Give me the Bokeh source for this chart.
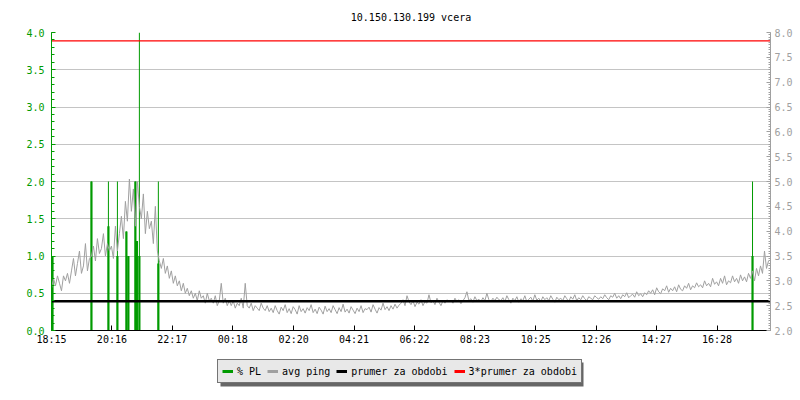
from bokeh.plotting import figure
from bokeh.layouts import column
from bokeh.models import (Range1d, LinearAxis, SingleIntervalTicker, FixedTicker,
                          PrintfTickFormatter, Legend, LegendItem, ColumnDataSource)
from bokeh.embed import file_html
from bokeh.resources import INLINE

title_text = "10.150.130.199 vcera"

# x axis: minutes since 18:15
tick_minutes = [0, 121, 242, 363, 485, 606, 727, 848, 970, 1091, 1212, 1333]
tick_labels = ["18:15", "20:16", "22:17", "00:18", "02:20", "04:21",
               "06:22", "08:23", "10:25", "12:26", "14:27", "16:28"]
period_minutes = 1440
sample_step = 4

# avg ping (ms, right axis)
avg_ping = [
    2.85, 3.05, 2.9, 3.1, 2.95, 2.8, 3.1, 3.0, 3.15, 2.95,
    3.2, 3.45, 3.1, 3.35, 3.6, 3.15, 3.3, 3.75, 3.2, 3.45,
    3.5, 3.7, 3.4, 3.85, 3.55, 3.65, 3.95, 3.5, 3.75, 3.6,
    3.7, 3.45, 4.1, 3.6, 3.95, 4.3, 3.85, 4.6, 4.2, 5.05,
    4.4, 4.85, 4.1, 5.0, 4.5, 4.25, 4.75, 3.95, 4.4, 4.05,
    4.2, 3.75, 4.5, 3.6, 3.4, 3.25, 3.45, 3.15, 3.3, 3.05,
    3.2, 2.95, 3.1, 2.9, 3.0, 2.8, 2.95, 2.75, 2.85, 2.7,
    2.8, 2.65, 2.75, 2.6, 2.8, 2.65, 2.7, 2.55, 2.75, 2.6,
    2.65, 2.55, 2.7, 2.5, 2.6, 2.95, 2.55, 2.65, 2.5, 2.6,
    2.5, 2.6, 2.45, 2.55, 2.5, 2.65, 2.45, 2.95, 2.5, 2.45,
    2.55, 2.4, 2.5, 2.45, 2.4, 2.55, 2.45, 2.4, 2.5, 2.38,
    2.45, 2.36, 2.5, 2.4, 2.33, 2.47, 2.4, 2.52, 2.36, 2.44,
    2.34, 2.48, 2.42, 2.33, 2.5, 2.38, 2.44, 2.35, 2.46, 2.4,
    2.52, 2.36, 2.43, 2.34, 2.47, 2.41, 2.33, 2.49, 2.38, 2.44,
    2.36, 2.5, 2.42, 2.34, 2.46, 2.38, 2.53, 2.37, 2.43, 2.35,
    2.48, 2.41, 2.34, 2.45, 2.38, 2.5, 2.36, 2.44, 2.42, 2.47,
    2.37, 2.52, 2.43, 2.35, 2.46, 2.41, 2.55, 2.42, 2.48, 2.4,
    2.5, 2.43, 2.53, 2.45, 2.51,
    2.55, 2.62, 2.5, 2.7, 2.58, 2.52, 2.6, 2.48, 2.57, 2.53,
    2.62, 2.5, 2.58, 2.55, 2.72, 2.56, 2.6, 2.52, 2.65, 2.57,
    2.5, 2.6, 2.55, 2.62, 2.58,
    2.6, 2.55, 2.65, 2.58, 2.62, 2.54, 2.6, 2.66, 2.78, 2.6,
    2.64, 2.57, 2.68, 2.6, 2.63, 2.58, 2.66, 2.6, 2.75, 2.62,
    2.58, 2.65, 2.6, 2.67, 2.62,
    2.6, 2.66, 2.58, 2.7, 2.62, 2.55, 2.65, 2.6, 2.68, 2.57,
    2.64, 2.6, 2.7, 2.58, 2.63, 2.67, 2.59, 2.72, 2.61, 2.65,
    2.58, 2.68, 2.62, 2.66, 2.6, 2.7, 2.63, 2.57, 2.67, 2.62,
    2.65, 2.6, 2.7, 2.64, 2.58, 2.68, 2.63, 2.72, 2.6, 2.66,
    2.62, 2.7, 2.64, 2.6, 2.68, 2.65, 2.62, 2.7, 2.66, 2.63,
    2.68, 2.64, 2.72, 2.66, 2.62, 2.7, 2.67, 2.75, 2.65, 2.7,
    2.64, 2.72, 2.68, 2.76, 2.66, 2.7, 2.73, 2.67, 2.78, 2.7,
    2.74, 2.68, 2.76, 2.72, 2.8,
    2.75, 2.82, 2.72, 2.86, 2.78, 2.74, 2.84, 2.8, 2.9, 2.77,
    2.85, 2.8, 2.88, 2.78, 2.92, 2.83, 2.8, 2.9, 2.85, 2.95,
    2.82, 2.9, 2.86, 2.96, 2.88,
    2.92, 2.86, 3.0, 2.9, 2.95, 2.88, 3.05, 2.93, 2.98, 2.9,
    3.05, 2.95, 3.1, 2.92, 3.0, 2.96, 3.1, 2.98, 3.05, 2.95,
    3.12, 3.0, 3.08, 2.98, 3.15,
    3.05, 3.2, 3.0, 3.25, 3.1, 3.3, 3.15, 3.6, 3.25, 3.4,
]
ping_minutes = [i * sample_step for i in range(len(avg_ping))]

# packet loss spikes (%, left axis)
pl_minutes = [2, 80, 114, 132, 150, 154, 168, 171, 176, 214, 1404]
pl_max = [1.0, 2.0, 2.0, 2.0, 1.33, 1.0, 2.0, 1.2, 4.0, 2.0, 2.0]
pl_avg = [1.0, 2.0, 1.4, 1.0, 1.33, 1.0, 2.0, 1.2, 1.0, 0.9, 1.0]

prumer = 2.59
trojprumer = 7.83

legend_labels = ["% PL", "avg ping", "prumer za obdobi", "3*prumer za obdobi"]

GREEN = "#009a00"
GRAY = "#a0a0a0"
FONT = "DejaVu Sans Mono"

p = figure(width=800, height=348, x_range=Range1d(0, period_minutes),
           y_range=Range1d(0, 4), output_backend="svg", toolbar_location=None,
           min_border_left=51, min_border_right=30, min_border_top=32,
           min_border_bottom=18, title=title_text)
p.extra_y_ranges = {"ping": Range1d(2, 8)}
p.outline_line_color = None

p.title.align = "center"
p.title.text_font = FONT
p.title.text_font_size = "10px"
p.title.text_font_style = "normal"
p.title.text_color = "black"
p.title.standoff = 19

# axes
p.xaxis.ticker = FixedTicker(ticks=tick_minutes)
p.xaxis.major_label_overrides = {m: l for m, l in zip(tick_minutes, tick_labels)}
p.xaxis.major_tick_in = 5
p.xaxis.major_tick_out = 0
p.xaxis.minor_tick_line_color = None
p.xaxis.axis_line_color = "black"
p.xaxis.major_tick_line_color = "black"
p.xaxis.major_label_text_font = FONT
p.xaxis.major_label_text_font_size = "10px"
p.xaxis.major_label_text_color = "black"
p.xaxis.major_label_standoff = 3

p.yaxis.ticker = SingleIntervalTicker(interval=0.5, num_minor_ticks=5)
p.yaxis.formatter = PrintfTickFormatter(format="%.1f")
p.yaxis.axis_line_color = GREEN
p.yaxis.major_tick_line_color = GREEN
p.yaxis.minor_tick_line_color = GREEN
p.yaxis.major_tick_in = 4
p.yaxis.major_tick_out = 0
p.yaxis.minor_tick_in = 3
p.yaxis.minor_tick_out = 0
p.yaxis.major_label_text_color = GREEN
p.yaxis.major_label_text_font = FONT
p.yaxis.major_label_text_font_size = "10px"
p.yaxis.major_label_standoff = 7

raxis = LinearAxis(y_range_name="ping",
                   ticker=SingleIntervalTicker(interval=0.5, num_minor_ticks=10),
                   formatter=PrintfTickFormatter(format="%.1f"))
raxis.axis_line_color = GRAY
raxis.major_tick_line_color = GRAY
raxis.minor_tick_line_color = GRAY
raxis.major_tick_in = 4
raxis.major_tick_out = 0
raxis.minor_tick_in = 2
raxis.minor_tick_out = 0
raxis.major_label_text_color = GRAY
raxis.major_label_text_font = FONT
raxis.major_label_text_font_size = "10px"
raxis.major_label_standoff = 4
p.add_layout(raxis, "right")

p.xgrid.grid_line_color = None
p.ygrid.grid_line_color = "#c4c4c4"
p.ygrid.grid_line_width = 1

# data
pl_src = ColumnDataSource(dict(t=pl_minutes, mx=pl_max, av=pl_avg, z=[0] * len(pl_minutes)))
p.segment(x0="t", y0="z", x1="t", y1="mx", source=pl_src, line_color=GREEN, line_width=1)
p.segment(x0="t", y0="z", x1="t", y1="av", source=pl_src, line_color=GREEN, line_width=2.2)

p.line(ping_minutes, avg_ping, y_range_name="ping", line_color=GRAY, line_width=1)

span_x = [0, period_minutes]
p.line(span_x, [prumer, prumer], y_range_name="ping", line_color="black", line_width=2.5)
p.line(span_x, [trojprumer, trojprumer], y_range_name="ping", line_color="red", line_width=1.3)

# legend strip (separate figure; its frame is aligned with the main frame,
# so its x range is expressed in page pixels 51..770)
lf = figure(width=800, height=52, x_range=Range1d(51, 770), y_range=Range1d(52, 0),
            output_backend="svg", toolbar_location=None,
            min_border_left=51, min_border_right=30,
            min_border_top=0, min_border_bottom=0)
lf.xaxis.visible = False
lf.yaxis.visible = False
lf.grid.visible = False
lf.outline_line_color = None
lf.quad(left=[220], right=[583], top=[14], bottom=[38], fill_color="#666666",
        line_color=None)

legend_colors = [GREEN, GRAY, "black", "red"]
nan = float("nan")
items = []
for lab, col in zip(legend_labels, legend_colors):
    r = lf.line([nan, nan], [nan, nan], line_color=col, line_width=3)
    items.append(LegendItem(label=lab, renderers=[r]))

legend = Legend(items=items, orientation="horizontal", location=(166, 17))
legend.background_fill_color = "#e8e8e8"
legend.background_fill_alpha = 1
legend.border_line_color = "black"
legend.border_line_width = 1
legend.label_text_font = FONT
legend.label_text_font_size = "10px"
legend.label_text_color = "black"
legend.label_height = 14
legend.glyph_height = 14
legend.glyph_width = 11
legend.label_standoff = 4
legend.spacing = 6
legend.padding = 4
legend.margin = 0
lf.add_layout(legend, "center")

layout = column(p, lf, spacing=0)
open("out.html", "w").write(file_html(layout, INLINE))
